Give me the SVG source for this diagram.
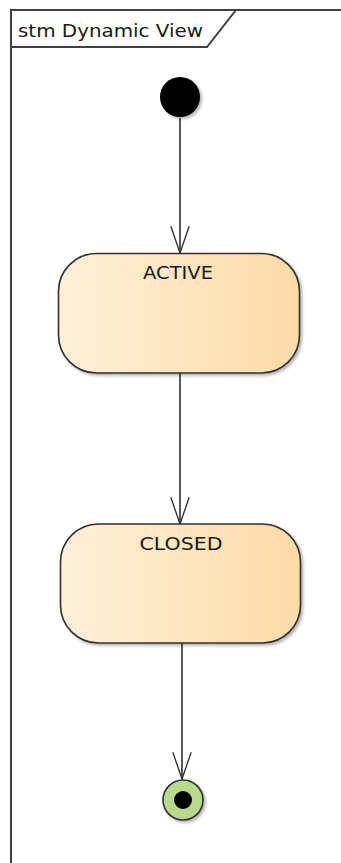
<svg xmlns="http://www.w3.org/2000/svg" width="341" height="863" viewBox="0 0 341 863">
<style>
.frame{fill:none;stroke:#404040;stroke-width:2}
.state{fill:url(#g);stroke:#303030;stroke-width:1.6}
.lbl{font-family:"DejaVu Sans",sans-serif;font-size:18px;fill:#1a1a1a}
.edge{fill:none;stroke:#303030;stroke-width:1.6}
</style>
<defs>
<linearGradient id="g" x1="0" y1="0" x2="1" y2="0">
<stop offset="0" stop-color="#fff0d9"/>
<stop offset="1" stop-color="#fcdba6"/>
</linearGradient>
<filter id="sh" x="-20%" y="-20%" width="140%" height="140%">
<feGaussianBlur in="SourceAlpha" stdDeviation="1.5"/>
<feOffset dx="2" dy="2"/>
<feComponentTransfer><feFuncA type="linear" slope="0.3"/></feComponentTransfer>
<feMerge><feMergeNode/><feMergeNode in="SourceGraphic"/></feMerge>
</filter>
<marker id="open" markerUnits="userSpaceOnUse" markerWidth="30" markerHeight="40" viewBox="-2 -14 36 28" refX="32" refY="0" orient="auto">
<path d="M0,-11 L32,0 L0,11" fill="none" stroke="#303030" stroke-width="1.6"/>
</marker>
</defs>
<g id="frame">
<path class="frame" d="M11,863 V10 H341"/>
<path class="frame" d="M11,47 H207 L236,10"/>
<text class="lbl" x="18" y="37" textLength="185" lengthAdjust="spacingAndGlyphs">stm Dynamic View</text>
</g>
<g id="connectors">
<path class="edge" d="M180,118 V253" marker-end="url(#open)"/>
<path class="edge" d="M180,373 V524" marker-end="url(#open)"/>
<path class="edge" d="M182,643 V779" marker-end="url(#open)"/>
</g>
<g id="initial">
<circle cx="180" cy="97" r="20" fill="#000" filter="url(#sh)"/>
</g>
<g id="active">
<rect class="state" x="58.5" y="253.5" width="241" height="119.5" rx="38" ry="38" filter="url(#sh)"/>
<text class="lbl" x="178" y="279" text-anchor="middle" textLength="70" lengthAdjust="spacingAndGlyphs">ACTIVE</text>
</g>
<g id="closed">
<rect class="state" x="60.5" y="524" width="240" height="119" rx="38" ry="38" filter="url(#sh)"/>
<text class="lbl" x="181" y="550" text-anchor="middle" textLength="83" lengthAdjust="spacingAndGlyphs">CLOSED</text>
</g>
<g id="final">
<circle cx="183" cy="800" r="20" fill="#b8da8c" stroke="#303030" stroke-width="1.6" filter="url(#sh)"/>
<circle cx="183" cy="800" r="9" fill="#000"/>
</g>
</svg>
